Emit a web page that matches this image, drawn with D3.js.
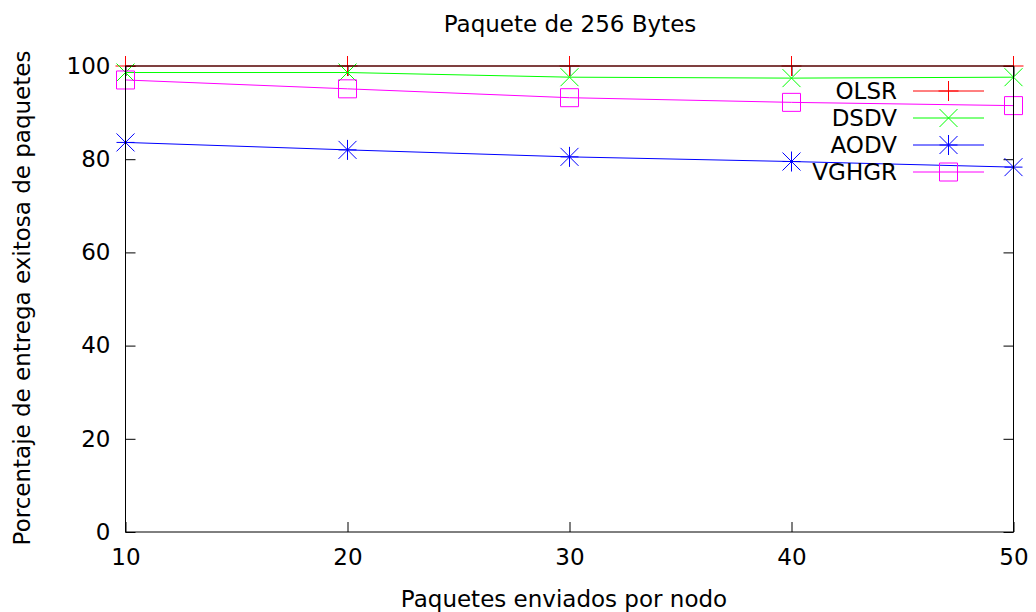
<!DOCTYPE html>
<html><head><meta charset="utf-8">
<script src="https://cdn.jsdelivr.net/npm/d3@7"></script>
<style>body{margin:0;background:#fff}svg{display:block}text{font-family:"DejaVu Sans",sans-serif;fill:#000}</style>
</head><body>
<svg id="c" width="1036" height="612"></svg>
<script>
const xValues = [10, 20, 30, 40, 50];
const olsr  = [100, 100, 100, 100, 100];
const dsdv  = [98.6, 98.6, 97.6, 97.4, 97.6];
const aodv  = [83.6, 82.0, 80.5, 79.5, 78.3];
const vghgr = [97.0, 95.1, 93.2, 92.2, 91.5];
const seriesNames = ["OLSR", "DSDV", "AODV", "VGHGR"];
const seriesColors = ["#ff0000", "#00ff00", "#0000ff", "#ff00ff"];
const seriesMarkers = ["plus", "cross", "star", "square"];
const xTicks = [10, 20, 30, 40, 50];
const yTicks = [0, 20, 40, 60, 80, 100];
const title = "Paquete de 256 Bytes";
const xLabel = "Paquetes enviados por nodo";
const yLabel = "Porcentaje de entrega exitosa de paquetes";

const seriesData = [olsr, dsdv, aodv, vghgr];
const L = 125.5, R = 1013.5, T = 66, B = 532;
const svg = d3.select("#c");
const x = d3.scaleLinear().domain([10, 50]).range([L, R]);
const y = d3.scaleLinear().domain([0, 100]).range([B, T]);
const tl = 10;
const fs = 23;

svg.append("g").attr("transform", `translate(0,${B})`)
  .call(d3.axisBottom(x).tickValues(xTicks).tickSizeInner(-tl).tickSizeOuter(0).tickPadding(17))
  .call(g => { g.select(".domain").remove(); g.selectAll("text").style("font-size", fs + "px").style("font-family", "DejaVu Sans"); g.selectAll("line").attr("stroke", "#000"); });
svg.append("g").attr("transform", `translate(0,${T})`)
  .call(d3.axisTop(x).tickValues(xTicks).tickSizeInner(-tl).tickSizeOuter(0).tickFormat(""))
  .call(g => { g.select(".domain").remove(); g.selectAll("line").attr("stroke", "#000"); });
svg.append("g").attr("transform", `translate(${L},0)`)
  .call(d3.axisLeft(y).tickValues(yTicks).tickSizeInner(-tl).tickSizeOuter(0).tickPadding(15))
  .call(g => { g.select(".domain").remove(); g.selectAll("text").style("font-size", fs + "px").style("font-family", "DejaVu Sans"); g.selectAll("line").attr("stroke", "#000"); });
svg.append("g").attr("transform", `translate(${R},0)`)
  .call(d3.axisRight(y).tickValues(yTicks).tickSizeInner(-tl).tickSizeOuter(0).tickFormat(""))
  .call(g => { g.select(".domain").remove(); g.selectAll("line").attr("stroke", "#000"); });

function marker(g, type, cx, cy, color) {
  const s = 9;
  const p = d3.path();
  if (type === "plus") { p.moveTo(cx - s - 1, cy); p.lineTo(cx + s + 1, cy); p.moveTo(cx, cy - s - 1); p.lineTo(cx, cy + s + 1); }
  else if (type === "cross") { p.moveTo(cx - s, cy - s); p.lineTo(cx + s, cy + s); p.moveTo(cx - s, cy + s); p.lineTo(cx + s, cy - s); }
  else if (type === "star") { p.moveTo(cx - s, cy - s); p.lineTo(cx + s, cy + s); p.moveTo(cx - s, cy + s); p.lineTo(cx + s, cy - s); p.moveTo(cx, cy - s - 1); p.lineTo(cx, cy + s + 1); p.moveTo(cx - s, cy); p.lineTo(cx + s, cy); }
  else if (type === "square") { p.rect(cx - s, cy - s, 2 * s, 2 * s); }
  g.append("path").attr("d", p.toString()).attr("fill", "none").attr("stroke", color).attr("stroke-width", 1);
}

const line = d3.line().x((d, i) => x(xValues[i])).y(d => y(d));
seriesData.forEach((vals, k) => {
  const g = svg.append("g");
  g.append("path").attr("d", line(vals)).attr("fill", "none").attr("stroke", seriesColors[k]).attr("stroke-width", 1);
  vals.forEach((v, i) => marker(g, seriesMarkers[k], x(xValues[i]), y(v), seriesColors[k]));
});

svg.append("rect").attr("x", L).attr("y", T).attr("width", R - L).attr("height", B - T)
  .attr("fill", "none").attr("stroke", "#000").attr("stroke-width", 1);

const lgX = 897, lgY0 = 91, lgDy = 27;
seriesNames.forEach((n, k) => {
  const ly = lgY0 + k * lgDy;
  svg.append("text").attr("x", lgX).attr("y", ly).attr("dy", "0.36em").attr("text-anchor", "end")
    .style("font-size", fs + "px").text(n);
  svg.append("line").attr("x1", 913).attr("x2", 984).attr("y1", ly).attr("y2", ly)
    .attr("stroke", seriesColors[k]).attr("stroke-width", 1);
  marker(svg, seriesMarkers[k], 948.5, ly, seriesColors[k]);
});

svg.append("text").attr("x", 570).attr("y", 32).attr("text-anchor", "middle").style("font-size", fs + "px").text(title);
svg.append("text").attr("x", 564).attr("y", 607).attr("text-anchor", "middle").style("font-size", fs + "px").text(xLabel);
svg.append("text").attr("transform", "translate(30,298) rotate(-90)").attr("text-anchor", "middle").style("font-size", fs + "px").text(yLabel);
</script>
</body></html>
